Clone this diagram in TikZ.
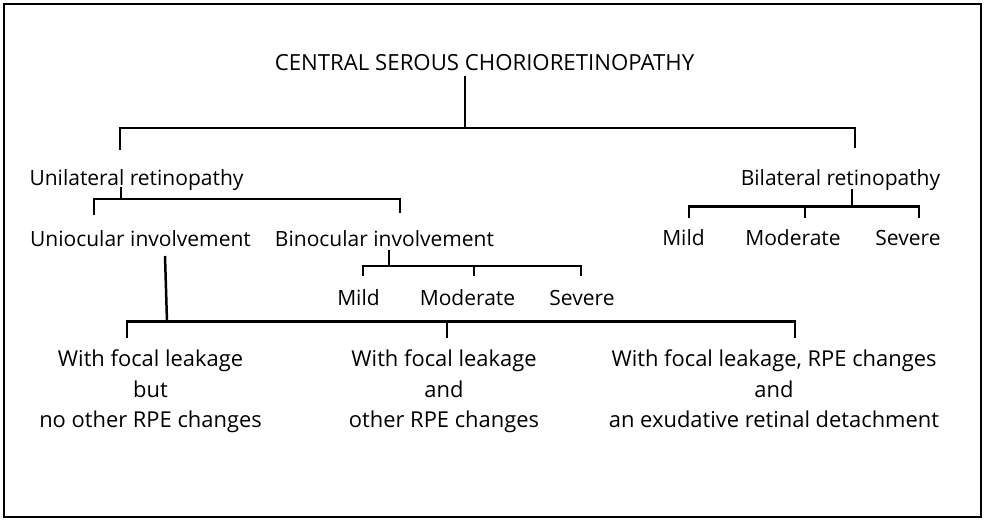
\documentclass[tikz,border=0pt]{standalone}
\usepackage{fontspec}
\setmainfont{Open Sans}
\newcommand\myfs{\fontsize{21}{30.5}\selectfont}
\newcommand\myfsb{\fontsize{21.9}{30.5}\selectfont}
\newcommand\myfstitle{\fontsize{22.2}{26}\selectfont}
\begin{document}
\begin{tikzpicture}[x=1pt,y=-1pt,
  lbl/.style={font=\myfs, anchor=base, inner sep=0pt},
  lblb/.style={font=\myfsb, anchor=base, inner sep=0pt},
  ttl/.style={font=\myfstitle, anchor=base, inner sep=0pt},
  conn/.style={line width=2.5pt, line cap=butt, line join=miter}]
\useasboundingbox (0,0) rectangle (986,522);
\draw[line width=2.6pt] (4,4) rectangle (981,517);
% nodes
\node[ttl] (title) at (484.5,70.7) {CENTRAL SEROUS CHORIORETINOPATHY};
\node[lbl] (uni) at (136.5,185) {Unilateral retinopathy};
\node[lbl] (bil) at (840.5,185) {Bilateral retinopathy};
\node[lbl] (unioc) at (140.5,246.5) {Uniocular involvement};
\node[lbl] (binoc) at (384.5,246.5) {Binocular involvement};
\node[lbl] (bmild) at (358.5,305) {Mild};
\node[lbl] (bmod) at (467.5,305) {Moderate};
\node[lbl] (bsev) at (582,305) {Severe};
\node[lbl] (rmild) at (683.5,245) {Mild};
\node[lbl] (rmod) at (793,245) {Moderate};
\node[lbl] (rsev) at (908,245) {Severe};
\node[lblb] (f1) at (150.5,366.5) {\begin{tabular}[t]{@{}c@{}}With focal leakage\\but\\no other RPE changes\end{tabular}};
\node[lblb] (f2) at (444,366.5) {\begin{tabular}[t]{@{}c@{}}With focal leakage\\and\\other RPE changes\end{tabular}};
\node[lblb] (f3) at (774,366.5) {\begin{tabular}[t]{@{}c@{}}With focal leakage, RPE changes\\and\\an exudative retinal detachment\end{tabular}};
% junction coordinates
\coordinate (t0) at (465,76);   \coordinate (t1) at (465,128);
\coordinate (u0) at (120,150);  \coordinate (b0) at (855,148);
\coordinate (ua) at (121,187);  \coordinate (ub) at (121,199);
\coordinate (uc) at (94,215);   \coordinate (ud) at (400,213);
\coordinate (ba) at (389,250);  \coordinate (bb) at (389,266);
\coordinate (bm1) at (363,276); \coordinate (bm2) at (474,276); \coordinate (bm3) at (581,276);
\coordinate (ra) at (852,189);  \coordinate (rb) at (852,206.5);
\coordinate (rm1) at (689,218); \coordinate (rm2) at (805,218); \coordinate (rm3) at (919,218);
\coordinate (oa) at (165,256);  \coordinate (ob) at (167,321.5);
\coordinate (f1t) at (127,338); \coordinate (f2t) at (447,338); \coordinate (f3t) at (795,338);
% connectors
\draw[conn] (t0) -- (t1);
\draw[conn] (u0) |- (t1) -| (b0);
\draw[conn] (ua) -- (ub);
\draw[conn] (uc) |- (ub) -| (ud);
\draw[conn] (ba) -- (bb);
\draw[conn] (bm1) |- (bb) -| (bm3);
\draw[conn] (bm2) -- (bm2 |- bb);
\draw[conn] (ra) -- (rb);
\draw[conn] (rm1) |- (rb) -| (rm3);
\draw[conn] (rm2) -- (rm2 |- rb);
\draw[conn] (oa) -- (ob);
\draw[conn] (f1t) |- (ob) -| (f3t);
\draw[conn] (f2t) -- (f2t |- ob);
\end{tikzpicture}
\end{document}
